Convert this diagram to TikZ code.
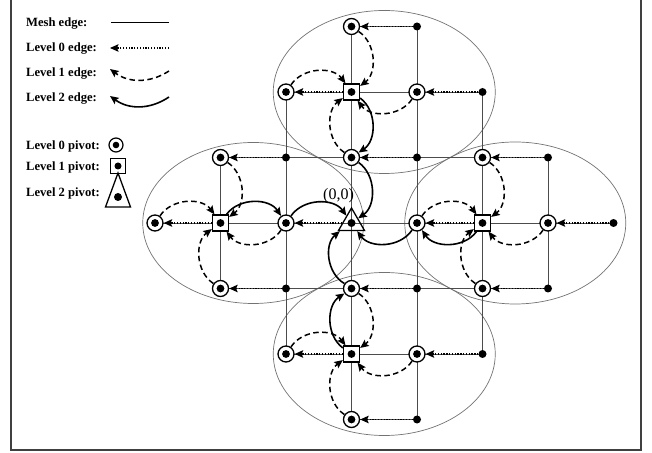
\documentclass[tikz,border=0pt]{standalone}
\usepackage{fontspec}
\setmainfont{Liberation Serif}
\usetikzlibrary{arrows.meta,shapes.geometric,backgrounds}
\begin{document}
\begin{tikzpicture}[x=1pt,y=1pt,
  tipend/.style={-{Stealth[length=8.5pt,width=7.5pt,inset=1.5pt]}},
  meshline/.style={line width=0.7pt, draw=black!70},
  lvlzero/.style={tipend, line width=1.3pt, dash pattern=on 1.3pt off 1.5pt},
  lvlone/.style={tipend, line width=1.5pt, dash pattern=on 5.5pt off 3.5pt},
  lvltwo/.style={tipend, line width=1.6pt},
  clusterring/.style={draw=black!55, line width=0.7pt},
  dotnode/.style={circle, fill=black, inner sep=0pt, minimum size=8pt},
  pivzero/.style={circle, draw, fill=white, line width=1.3pt, inner sep=0pt, minimum size=16pt,
    path picture={\fill[black] (path picture bounding box.center) circle (3.9pt);}},
  pivone/.style={rectangle, draw, fill=white, line width=1.3pt, inner sep=0pt, minimum size=16pt,
    path picture={\fill[black] (path picture bounding box.center) circle (3.9pt);}},
  pivtwo/.style={regular polygon, regular polygon sides=3, draw, line width=1.3pt, inner sep=0pt, minimum size=30pt},
  legtext/.style={anchor=base west, font=\fontsize{12.6}{14}\selectfont\bfseries, inner sep=0pt},
]
\useasboundingbox (0,0) rectangle (652,452);
\draw[line width=2pt, draw=black!75] (11,2) rectangle (641,452.5);

% ---------- legend ----------
\node[legtext] (tmesh) at (26,425) {Mesh edge:};
\node[legtext] (tlze) at (26,400) {Level 0 edge:};
\node[legtext] (tloe) at (26,375) {Level 1 edge:};
\node[legtext] (tlte) at (26,350.5) {Level 2 edge:};
\node[legtext] (tlzp) at (26,302) {Level 0 pivot:};
\node[legtext] (tlop) at (26,281.5) {Level 1 pivot:};
\node[legtext] (tltp) at (26,255) {Level 2 pivot:};

\coordinate (ma) at (169,430); \coordinate (mb) at (111,430);
\draw[meshline, draw=black] (ma) -- (mb);
\coordinate (za) at (169,404); \coordinate (zb) at (110,404);
\draw[lvlzero] (za) -- (zb);
\coordinate (oa) at (169,381); \coordinate (ob) at (110,383);
\draw[lvlone] (oa) to[bend left=35] (ob);
\coordinate (ta) at (169,355); \coordinate (tb) at (110,356);
\draw[lvltwo] (ta) to[bend left=35] (tb);

\node[pivzero, minimum size=14pt, line width=1.2pt,
  path picture={\fill[black] (path picture bounding box.center) circle (3.3pt);}] (symz) at (116,307) {};
\node[pivone, minimum size=15pt, line width=1.2pt,
  path picture={\fill[black] (path picture bounding box.center) circle (3.5pt);}] (symo) at (118,286) {};
\draw[line width=1.3pt] (118,279) -- (105.5,245) -- (130.5,245) -- cycle;
\fill (118,255) circle (4pt);

% ---------- mesh ----------
\begin{scope}[shift={(351.5,229)}, x=65.5pt, y=65.5pt]
\node[pivzero] (D7) at (0,3) {};
\node[dotnode] (E7) at (1,3) {};
\node[pivzero] (C6) at (-1,2) {};
\node[pivone]  (D6) at (0,2) {};
\node[pivzero] (E6) at (1,2) {};
\node[dotnode] (F6) at (2,2) {};
\node[pivzero] (B5) at (-2,1) {};
\node[dotnode] (C5) at (-1,1) {};
\node[pivzero] (D5) at (0,1) {};
\node[dotnode] (E5) at (1,1) {};
\node[pivzero] (F5) at (2,1) {};
\node[dotnode] (G5) at (3,1) {};
\node[pivzero] (A4) at (-3,0) {};
\node[pivone]  (B4) at (-2,0) {};
\node[pivzero] (C4) at (-1,0) {};
\node[dotnode] (D4) at (0,0) {};
\node[pivtwo]  (T4) at (0,0) {};
\node[pivzero] (E4) at (1,0) {};
\node[pivone]  (F4) at (2,0) {};
\node[pivzero] (G4) at (3,0) {};
\node[dotnode] (H4) at (4,0) {};
\node[pivzero] (B3) at (-2,-1) {};
\node[dotnode] (C3) at (-1,-1) {};
\node[pivzero] (D3) at (0,-1) {};
\node[dotnode] (E3) at (1,-1) {};
\node[pivzero] (F3) at (2,-1) {};
\node[dotnode] (G3) at (3,-1) {};
\node[pivzero] (C2) at (-1,-2) {};
\node[pivone]  (D2) at (0,-2) {};
\node[pivzero] (E2) at (1,-2) {};
\node[dotnode] (F2) at (2,-2) {};
\node[pivzero] (D1) at (0,-3) {};
\node[dotnode] (E1) at (1,-3) {};

\node[font=\fontsize{16}{18}\selectfont, inner sep=0pt] (zlab) at ([shift={(-13pt,27pt)}]D4.center) {(0,0)};

\begin{scope}[on background layer]
\draw[clusterring] (0.5,2) ellipse [x radius=111pt, y radius=81.5pt];
\draw[clusterring] (-1.5,0) ellipse [x radius=110.5pt, y radius=80.5pt];
\draw[clusterring] (2.5,0) ellipse [x radius=110.5pt, y radius=81pt];
\draw[clusterring] (0.5,-2) ellipse [x radius=111pt, y radius=81.5pt];
\draw[meshline] (D7.center) -- (E7.center) (C6.center) -- (F6.center)
  (B5.center) -- (G5.center) (A4.center) -- (H4.center) (B3.center) -- (G3.center)
  (C2.center) -- (F2.center) (D1.center) -- (E1.center);
\draw[meshline] (B5.center) -- (B3.center) (C6.center) -- (C2.center)
  (D7.center) -- (D1.center) (E7.center) -- (E1.center)
  (F6.center) -- (F2.center) (G5.center) -- (G3.center);
\end{scope}

% level 0 edges
\draw[lvlzero] (E7) -- (D7);
\draw[lvlzero] (D6) -- (C6);
\draw[lvlzero] (F6) -- (E6);
\draw[lvlzero] (C5) -- (B5);
\draw[lvlzero] (E5) -- (D5);
\draw[lvlzero] (G5) -- (F5);
\draw[lvlzero] (B4) -- (A4);
\draw[lvlzero] (T4) -- (C4);
\draw[lvlzero] (F4) -- (E4);
\draw[lvlzero] (H4) -- (G4);
\draw[lvlzero] (C3) -- (B3);
\draw[lvlzero] (E3) -- (D3);
\draw[lvlzero] (G3) -- (F3);
\draw[lvlzero] (D2) -- (C2);
\draw[lvlzero] (F2) -- (E2);
\draw[lvlzero] (E1) -- (D1);

% level 1 edges
\draw[lvlone] (D7) to[bend left=55] (D6);
\draw[lvlone] (C6) to[bend left=55] (D6);
\draw[lvlone] (E6) to[bend left=55] (D6);
\draw[lvlone] (D5) to[bend left=55] (D6);
\draw[lvlone] (B5) to[bend left=55] (B4);
\draw[lvlone] (A4) to[bend left=55] (B4);
\draw[lvlone] (C4) to[bend left=55] (B4);
\draw[lvlone] (B3) to[bend left=55] (B4);
\draw[lvlone] (F5) to[bend left=55] (F4);
\draw[lvlone] (E4) to[bend left=55] (F4);
\draw[lvlone] (G4) to[bend left=55] (F4);
\draw[lvlone] (F3) to[bend left=55] (F4);
\draw[lvlone] (D3) to[bend left=55] (D2);
\draw[lvlone] (C2) to[bend left=55] (D2);
\draw[lvlone] (E2) to[bend left=55] (D2);
\draw[lvlone] (D1) to[bend left=55] (D2);

% level 2 edges
\draw[lvltwo] (D6) to[bend left=55] (D5);
\draw[lvltwo] (D5) to[bend left=55] (T4);
\draw[lvltwo] (B4) to[bend left=55] (C4);
\draw[lvltwo] (C4) to[bend left=55] (T4);
\draw[lvltwo] (F4) to[bend left=55] (E4);
\draw[lvltwo] (E4) to[bend left=55] (T4);
\draw[lvltwo] (D2) to[bend left=55] (D3);
\draw[lvltwo] (D3) to[bend left=55] (T4);
\end{scope}
\end{tikzpicture}
\end{document}
